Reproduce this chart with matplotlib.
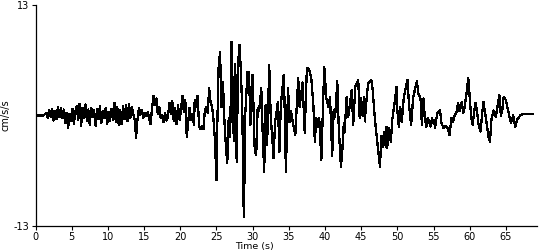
import matplotlib
matplotlib.use("Agg")
import matplotlib.pyplot as plt

# Pre-event / early noise (0-22 s)
time_early = [
    0.0, 1.0, 1.2, 1.5, 1.7, 1.9, 2.1, 2.3, 2.5, 2.7, 2.9, 3.1, 3.3, 3.5, 3.7, 3.9, 4.1, 4.3, 4.5, 4.7, 4.9,
    5.1, 5.3, 5.5, 5.7, 5.9, 6.1, 6.3, 6.5, 6.7, 6.9, 7.1, 7.3, 7.5, 7.7, 7.9, 8.1, 8.3, 8.5, 8.7, 8.9,
    9.1, 9.3, 9.5, 9.7, 9.9, 10.1, 10.3, 10.5, 10.7, 10.9, 11.1, 11.3, 11.5, 11.7, 11.9, 12.1, 12.3, 12.5,
    12.7, 12.9, 13.1, 13.3, 13.5, 13.7, 13.9, 14.1, 14.3, 14.5, 14.7, 14.9, 15.1, 15.3, 15.5, 15.7, 15.9,
    16.1, 16.3, 16.5, 16.7, 16.9, 17.1, 17.3, 17.5, 17.7, 17.9, 18.1, 18.3, 18.5, 18.7, 18.9, 19.1, 19.3,
    19.5, 19.7, 19.9, 20.1, 20.3, 20.5, 20.7, 20.9, 21.1, 21.3, 21.5, 21.7, 21.9,
]
accel_early = [
    0.0, 0.0, 0.1, 0.3, -0.3, 0.6, -0.2, 0.8, -0.6, 0.5, -0.4, 1.0, -0.2, 0.9, -0.3, 0.7, -0.9, 0.3, -1.5, 0.2, -0.6,
    0.8, -1.0, 0.5, 1.1, -0.5, 1.4, -1.2, 0.9, -0.3, 1.3, -0.6, 0.7, -1.1, 0.9, -0.2, 0.6, -1.2, 0.8, -0.4, 1.1,
    -0.9, 0.5, -0.3, 0.9, -1.0, 0.4, -0.6, 0.8, -0.5, 1.5, -0.8, 1.0, -1.1, 0.6, -1.0, 1.1, -0.4, 1.2,
    -0.7, 1.3, -0.3, 1.0, 0.2, -0.5, -2.6, -0.4, 0.9, 0.1, 0.6, -0.3, 0.3, -0.1, 0.4, -0.3, -1.0,
    0.8, 2.3, 1.2, 2.0, 0.2, 1.0, -0.3, 0.1, -0.8, 0.3, -0.6, -0.2, 1.5, 0.2, 1.7, -0.6, 0.9,
    -1.0, 1.2, -0.5, 0.6, 2.3, 0.4, 1.8, -2.5, -0.8, 0.9, -0.5, 0.2, -1.1,
]

# Strong motion (22-40.5 s)
time_strong = [
    22.0, 22.2, 22.4, 22.6, 22.8, 23.0, 23.2, 23.4, 23.6, 23.8, 24.0, 24.2, 24.4, 24.6, 24.8, 25.0, 25.1,
    25.3, 25.5, 25.7, 25.9, 26.1, 26.3, 26.5, 26.7, 26.9, 27.1, 27.3, 27.4, 27.6, 27.8, 28.0, 28.2, 28.4,
    28.6, 28.7, 28.8, 29.0, 29.3, 29.4, 29.5, 29.7, 29.9, 30.0, 30.3, 30.5, 30.7, 30.9, 31.2, 31.4, 31.6,
    31.8, 32.0, 32.3, 32.5, 32.9, 33.1, 33.5, 33.7, 33.9, 34.3, 34.4, 34.6, 34.9, 35.1, 35.3, 35.6, 35.9,
    36.3, 36.5, 36.9, 37.2, 37.5, 37.8, 38.1, 38.4, 38.6, 38.8, 39.0, 39.2, 39.5, 39.9, 40.2, 40.5,
]
accel_strong = [
    1.8, 1.0, 2.3, -1.2, -1.6, -1.2, -1.6, 0.5, 1.0, 0.3, 3.2, 1.5, 1.0, -0.5, -3.0, -7.6, -2.0,
    5.6, 7.5, 1.0, 3.9, -0.5, -3.5, -5.6, -0.3, -2.5, 8.7, 1.0, -3.0, 6.0, -5.5, 6.3, 8.3, 4.8,
    -0.3, -9.0, -11.9, 0.4, 5.1, 4.4, 5.1, -1.1, 3.5, 4.8, -4.3, -4.6, 0.9, 0.5, 3.2, -2.3, -6.6,
    1.2, -3.5, 5.9, 0.0, -5.0, -0.8, 1.6, -4.3, 1.2, 4.8, 2.0, -6.6, 3.2, -0.8, 0.5, -1.0, -2.3,
    4.4, 1.0, 3.9, -2.0, 5.6, 5.4, 4.5, 1.2, -3.1, -0.3, -1.4, -0.3, -5.2, 5.7, 2.0, 1.0,
]

# Coda (40.7-68.7 s)
time_coda = [
    40.7, 40.8, 41.0, 41.2, 41.4, 41.7, 41.9, 42.2, 42.4, 42.6, 42.7, 43.0, 43.2, 43.4, 43.7, 43.9, 44.2,
    44.6, 44.8, 45.0, 45.2, 45.4, 45.5, 45.8, 46.0, 46.4, 46.6, 46.8, 47.0, 47.3, 47.6, 47.8, 48.0, 48.2,
    48.4, 48.5, 48.6, 48.8, 49.1, 49.3, 49.6, 49.9, 50.0, 50.2, 50.4, 50.6, 50.9, 51.4, 51.6, 51.9, 52.2,
    52.7, 52.9, 53.2, 53.4, 53.6, 53.8, 54.0, 54.2, 54.4, 54.6, 54.8, 55.0, 55.1, 55.2, 55.5, 55.9, 56.1,
    56.4, 56.7, 57.0, 57.2, 57.5, 57.7, 57.9, 58.2, 58.4, 58.6, 58.9, 59.1, 59.3, 59.5, 59.8, 60.0, 60.2,
    60.4, 60.6, 60.8, 61.0, 61.2, 61.5, 61.7, 61.9, 62.2, 62.6, 62.8, 63.0, 63.3, 63.6, 64.1, 64.3, 64.5,
    64.7, 65.0, 65.3, 65.7, 66.0, 66.3, 66.6, 67.0, 67.3, 68.0, 68.7,
]
accel_coda = [
    2.2, -0.1, -4.8, 0.6, -0.2, 4.0, -1.3, -6.0, -4.1, -0.9, -2.0, 2.2, -0.2, 1.0, 3.0, -1.1, 3.4,
    4.2, -0.3, 2.0, 0.0, 2.2, -0.7, 2.5, 3.8, 4.2, 3.0, 0.6, -1.3, -3.7, -6.0, -2.4, -3.7, -2.0,
    -3.7, -1.3, -3.8, -1.5, -3.1, -0.5, 1.4, 3.4, 0.6, -1.3, 1.0, -0.8, 2.2, 4.2, 1.4, -1.1, 2.2,
    4.0, 2.6, 2.0, -1.1, 2.0, -0.3, -1.3, -0.3, -0.7, -1.3, -0.3, -0.9, -0.5, -1.5, 0.2, 0.6, -0.9,
    -1.5, -1.2, -1.6, -2.3, -0.3, -0.8, 0.0, 0.4, 1.5, 0.5, 1.6, 0.3, 1.0, 2.2, 4.4, 2.2, -0.1,
    -1.1, 0.3, 1.5, 0.6, -0.9, -1.9, 0.0, 1.6, -0.1, -2.5, -3.1, -0.5, 0.6, -0.2, 2.4, 0.0, 0.6,
    2.2, 1.8, 0.6, -0.9, 0.0, -1.3, -0.4, 0.0, 0.2, 0.2, 0.2,
]

x_ticks = [0, 5, 10, 15, 20, 25, 30, 35, 40, 45, 50, 55, 60, 65]
y_ticks = [-13, 13]

time_s = time_early + time_strong + time_coda
accel = accel_early + accel_strong + accel_coda

fig = plt.figure(figsize=(5.5, 2.5), dpi=100)
ax = fig.add_axes([35.5 / 550, 1 - 226 / 250, (537 - 35.5) / 550, (226 - 5) / 250])
ax.plot(time_s, accel, color="black", lw=0.9, antialiased=False)
ax.set_xlim(0, 69.3)
ax.set_ylim(-13, 13)
ax.set_xticks(x_ticks)
ax.set_yticks(y_ticks)
ax.set_yticklabels([str(v) for v in y_ticks])
for s in ["top", "right"]:
    ax.spines[s].set_visible(False)
for s in ["left", "bottom"]:
    ax.spines[s].set_linewidth(0.9)
ax.tick_params(axis="both", labelsize=7, length=3, width=0.8, pad=1.5)
ax.set_ylabel("cm/s/s", fontsize=7, labelpad=2)
fig.text(254 / 550, 1 - 246.5 / 250, "Time (s)", fontsize=6.8, ha="center", va="center")
fig.savefig("out.png", dpi=100)
